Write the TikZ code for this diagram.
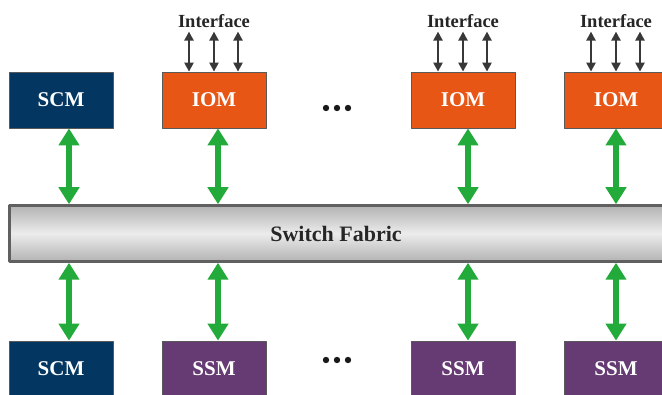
\documentclass[tikz,border=0pt]{standalone}
\usepackage{fontspec}
\setmainfont{Liberation Serif}
\usetikzlibrary{arrows.meta,positioning}
\definecolor{scmblue}{HTML}{033762}
\definecolor{iomorange}{HTML}{E85615}
\definecolor{ssmpurple}{HTML}{663A72}
\definecolor{linkgreen}{HTML}{22AA3A}
\definecolor{ifgray}{HTML}{383838}
\tikzset{
  module/.style={draw=gray!70!black, line width=0.8pt, minimum width=104pt, minimum height=56pt,
    inner sep=0pt, text=white, font=\bfseries\fontsize{21}{21}\selectfont},
  scmbox/.style={module, fill=scmblue},
  iombox/.style={module, fill=iomorange},
  ssmbox/.style={module, fill=ssmpurple},
  link/.style={linkgreen, line width=6pt, {Triangle[width=20pt,length=17pt]}-{Triangle[width=20pt,length=17pt]}},
  iflink/.style={ifgray, line width=2.6pt, {Triangle[width=9pt,length=9pt]}-{Triangle[width=9pt,length=9pt]}},
  dots/.style={font=\bfseries\fontsize{22}{22}\selectfont}
}
\begin{document}
\begin{tikzpicture}[x=1pt, y=-1pt, line join=round]
  \clip (0,0) rectangle (662,395);
  \fill[white] (0,0) rectangle (662,395);
  % fabric bar
  \node[draw=gray!75!black, line width=2.5pt, top color=gray!60, bottom color=gray!60, middle color=gray!15,
    minimum width=690pt, minimum height=56pt, anchor=west, inner sep=0pt] (fabric) at (8,233.5) {};
  \node[font=\bfseries\fontsize{22}{22}\selectfont, text=black!85] (fabtext) at (336,234) {Switch Fabric};
  % top row
  \node[scmbox] (scmt) at (61,100) {SCM};
  \node[iombox] (iomA) at (214,100) {IOM};
  \node[iombox] (iomB) at (463,100) {IOM};
  \node[iombox] (iomC) at (616,100) {IOM};
  % bottom row
  \node[scmbox] (scmb) at (61,369) {SCM};
  \node[ssmbox] (ssmA) at (214,369) {SSM};
  \node[ssmbox] (ssmB) at (463,369) {SSM};
  \node[ssmbox] (ssmC) at (616,369) {SSM};
  % dots
  \foreach \y/\n in {108/dotst, 360/dotsb}
    \foreach \x in {326,337,348}
      \fill[black!90] (\x,\y) circle (3.2pt);
  % green links to the fabric
  \foreach \t/\b/\dx in {scmt/scmb/8, iomA/ssmA/4, iomB/ssmB/5, iomC/ssmC/0} {
    \draw[link] ([xshift=\dx pt]\t.south) -- ([xshift=\dx pt]\t.south |- fabric.north);
    \draw[link] ([xshift=\dx pt]\b.north |- fabric.south) -- ([xshift=\dx pt]\b.north);
  }
  % interface arrows
  \foreach \m in {iomA, iomB, iomC} {
    \coordinate (\m top) at ([yshift=40pt]\m.north);
    \node[font=\bfseries\fontsize{18.5}{18.5}\selectfont, text=black!85, above=0pt of \m top] (\m label) {Interface};
    \foreach \dx in {-25,0,24}
      \draw[iflink] ([xshift=\dx pt]\m top) -- ([xshift=\dx pt]\m.north);
  }
\end{tikzpicture}
\end{document}
